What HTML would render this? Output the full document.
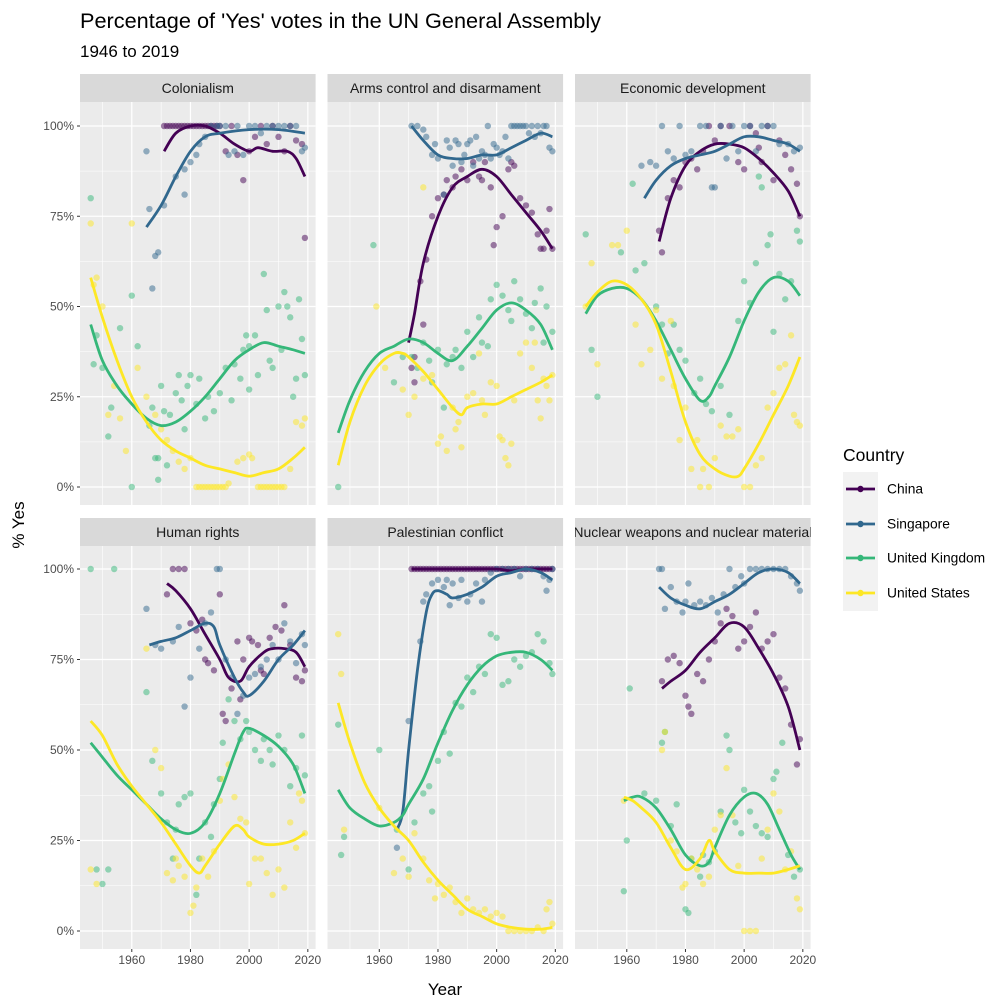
<!DOCTYPE html>
<html><head><meta charset="utf-8"><style>
body{margin:0;background:#fff;}
svg{display:block;font-family:"Liberation Sans",Arial,sans-serif;}
</style></head><body>
<svg id="chart" width="1008" height="1008" viewBox="0 0 1008 1008" xmlns="http://www.w3.org/2000/svg">
<rect width="1008" height="1008" fill="#fff"/>
<text x="80" y="28" font-size="21.7" fill="#000">Percentage of 'Yes' votes in the UN General Assembly</text>
<text x="80" y="57" font-size="17" fill="#000">1946 to 2019</text>
<text transform="translate(24,525) rotate(-90)" text-anchor="middle" font-size="17" fill="#000">% Yes</text>
<text x="445" y="995" text-anchor="middle" font-size="17" fill="#000">Year</text>
<g id="panels"></g>
<g id="legend"></g>
</svg>
<script>
const countries = ["China","Singapore","United Kingdom","United States"];
const colors = ["#440154","#31688E","#35B779","#FDE725"];
const panelTitles = ["Colonialism","Arms control and disarmament","Economic development","Human rights","Palestinian conflict","Nuclear weapons and nuclear material"];
const xTicks = [1960,1980,2000,2020];
const yTicks = [0,25,50,75,100];
const yTickLabels = ["0%","25%","50%","75%","100%"];

const pts0 = [
 [[1971,100],[1972,100],[1973,100],[1974,100],[1975,100],[1976,100],[1977,100],[1978,100],[1979,100],[1980,100],[1981,100],[1982,100],[1983,100],[1984,100],[1985,100],[1986,100],[1987,100],[1988,100],[1989,100],[1990,100],[1992,93],[1994,100],[1996,92],[1998,85],[2000,93],[2002,97],[2004,100],[2006,95],[2008,100],[2010,97],[2012,93],[2014,100],[2016,96],[2018,95],[2019,69]],
 [[1965,93],[1966,77],[1967,55],[1968,64],[1969,65],[1971,78],[1975,86],[1978,88],[1978,81],[1980,90],[1982,92],[1983,95],[1985,97],[1987,100],[1989,100],[1990,100],[1992,100],[1993,92],[1995,93],[1996,100],[1998,92],[2000,100],[2002,100],[2004,98],[2006,100],[2008,100],[2010,100],[2012,100],[2014,100],[2016,100],[2018,93],[2019,94]],
 [[1946,80],[1947,34],[1948,42],[1950,33],[1952,14],[1953,22],[1956,44],[1960,0],[1960,53],[1962,39],[1966,17],[1967,22],[1968,8],[1969,8],[1969,2],[1970,28],[1971,21],[1972,6],[1973,20],[1975,26],[1976,31],[1977,24],[1978,16],[1979,28],[1980,31],[1982,23],[1983,30],[1985,19],[1986,25],[1988,21],[1990,26],[1992,33],[1994,24],[1995,34],[1997,30],[1998,38],[1999,42],[2000,27],[2000,39],[2002,42],[2003,31],[2005,59],[2006,49],[2007,35],[2008,33],[2010,50],[2011,38],[2012,54],[2013,50],[2014,47],[2015,25],[2016,30],[2017,52],[2018,41],[2019,31]],
 [[1946,73],[1947,56],[1948,58],[1950,50],[1952,20],[1954,28],[1956,19],[1958,10],[1960,73],[1962,33],[1965,25],[1968,20],[1970,16],[1972,13],[1974,10],[1976,7],[1978,5],[1980,8],[1982,0],[1983,0],[1984,0],[1985,0],[1986,0],[1987,0],[1988,0],[1989,0],[1990,0],[1991,0],[1992,0],[1993,1],[1996,7],[1998,8],[2000,9],[2001,8],[2003,0],[2004,0],[2005,0],[2006,0],[2007,0],[2008,0],[2009,0],[2010,0],[2011,0],[2012,0],[2014,5],[2016,18],[2018,17],[2019,19]]
];
const pts1 = [
 [[1971,33],[1972,29],[1972,36],[1974,57],[1975,45],[1976,63],[1978,75],[1980,80],[1982,81],[1983,85],[1985,83],[1986,86],[1988,88],[1990,85],[1992,90],[1994,86],[1995,85],[1996,90],[1998,83],[1999,67],[2000,72],[2002,75],[2004,88],[2005,90],[2006,89],[2008,80],[2010,78],[2012,76],[2014,70],[2015,66],[2016,66],[2017,71],[2018,77],[2019,66]],
 [[1971,100],[1973,100],[1975,99],[1976,97],[1978,92],[1979,95],[1980,91],[1982,81],[1983,96],[1984,94],[1985,89],[1986,96],[1987,95],[1988,90],[1989,92],[1990,95],[1991,96],[1992,89],[1993,97],[1994,91],[1995,93],[1996,92],[1997,100],[1998,91],[1999,95],[2000,94],[2001,92],[2002,93],[2003,97],[2004,91],[2005,100],[2006,100],[2007,100],[2008,100],[2009,100],[2010,100],[2011,98],[2012,100],[2013,97],[2014,100],[2015,98],[2016,100],[2017,100],[2018,94],[2019,93]],
 [[1946,0],[1958,67],[1965,29],[1968,36],[1971,36],[1973,33],[1975,40],[1977,35],[1978,29],[1980,38],[1982,22],[1983,34],[1985,36],[1986,38],[1988,33],[1990,43],[1992,36],[1994,47],[1995,40],[1997,39],[1998,52],[2000,56],[2002,53],[2004,49],[2005,46],[2006,57],[2008,52],[2010,48],[2012,44],[2013,51],[2015,55],[2016,40],[2017,50],[2019,43]],
 [[1959,50],[1975,83],[1962,33],[1968,27],[1970,20],[1972,25],[1975,30],[1978,31],[1980,12],[1981,14],[1983,10],[1985,22],[1986,16],[1987,18],[1988,11],[1990,25],[1992,26],[1994,37],[1995,24],[1996,20],[1998,29],[2000,28],[2001,14],[2002,13],[2003,8],[2004,6],[2005,12],[2006,24],[2008,37],[2010,40],[2012,33],[2013,40],[2014,24],[2015,19],[2016,30],[2017,28],[2018,24],[2019,31]]
];
const pts2 = [
 [[1971,71],[1972,65],[1974,80],[1976,85],[1978,83],[1980,90],[1982,91],[1984,88],[1986,93],[1988,100],[1990,96],[1992,100],[1995,100],[1998,90],[2000,88],[2002,100],[2004,98],[2005,94],[2006,90],[2008,100],[2010,85],[2012,96],[2014,92],[2016,88],[2018,84],[2019,75]],
 [[1965,89],[1968,90],[1970,89],[1972,100],[1974,93],[1976,91],[1978,100],[1980,92],[1982,93],[1985,100],[1987,100],[1989,83],[1990,83],[1992,100],[1994,91],[1996,100],[1998,93],[2000,100],[2002,100],[2004,93],[2006,100],[2008,100],[2010,100],[2012,95],[2015,95],[2017,93],[2019,94]],
 [[1946,70],[1948,38],[1950,25],[1958,65],[1962,84],[1963,60],[1966,62],[1970,50],[1972,45],[1974,37],[1976,45],[1978,38],[1980,35],[1983,26],[1985,30],[1987,23],[1989,21],[1992,28],[1995,20],[1998,46],[2000,57],[2002,51],[2004,62],[2005,86],[2006,83],[2008,67],[2009,70],[2010,43],[2012,59],[2014,52],[2016,57],[2018,71],[2019,68]],
 [[1946,50],[1948,62],[1950,34],[1955,67],[1957,67],[1960,71],[1963,45],[1965,34],[1968,38],[1970,49],[1972,30],[1975,46],[1976,28],[1978,13],[1980,22],[1982,5],[1984,13],[1985,0],[1986,5],[1988,0],[1990,8],[1992,17],[1994,14],[1996,14],[1998,16],[2000,0],[2002,0],[2004,6],[2006,8],[2008,22],[2010,26],[2012,33],[2014,34],[2016,42],[2017,20],[2018,18],[2019,17]]
];
const pts3 = [
 [[1972,93],[1974,100],[1976,100],[1978,100],[1980,85],[1982,83],[1984,86],[1985,75],[1986,74],[1988,72],[1990,93],[1991,60],[1992,58],[1994,67],[1996,80],[1997,64],[1998,75],[2000,81],[2001,80],[2003,79],[2004,72],[2005,71],[2007,81],[2009,84],[2011,83],[2012,90],[2014,79],[2016,70],[2018,69],[2019,72]],
 [[1965,89],[1968,79],[1970,78],[1974,80],[1976,84],[1978,62],[1980,70],[1983,78],[1985,85],[1987,88],[1989,100],[1990,100],[1992,75],[1994,70],[1996,60],[1998,65],[2000,70],[2002,71],[2004,73],[2006,75],[2008,79],[2010,75],[2012,85],[2014,80],[2016,74],[2018,82],[2019,79]],
 [[1946,100],[1948,17],[1950,13],[1952,17],[1954,100],[1965,66],[1967,47],[1970,38],[1972,30],[1974,20],[1975,28],[1976,35],[1978,37],[1980,38],[1982,10],[1983,20],[1985,30],[1987,26],[1988,35],[1990,42],[1991,52],[1993,64],[1995,58],[1997,53],[1999,58],[2000,55],[2002,50],[2004,47],[2005,53],[2007,50],[2008,46],[2010,54],[2012,50],[2014,40],[2016,45],[2018,54],[2019,43]],
 [[1946,17],[1948,13],[1965,78],[1968,50],[1970,45],[1972,16],[1974,14],[1975,20],[1976,18],[1978,15],[1980,5],[1981,7],[1982,12],[1984,20],[1986,15],[1988,22],[1990,36],[1991,42],[1993,46],[1995,37],[1997,31],[1999,30],[2000,13],[2002,20],[2004,20],[2006,16],[2008,10],[2010,17],[2012,12],[2014,30],[2016,23],[2017,38],[2018,36],[2019,27]]
];
const pts4 = [
 [[1971,100],[1972,100],[1973,100],[1974,100],[1975,100],[1976,100],[1977,100],[1978,100],[1979,100],[1980,100],[1981,100],[1982,100],[1983,100],[1984,100],[1985,100],[1986,100],[1987,100],[1988,100],[1989,100],[1990,100],[1991,100],[1992,100],[1993,100],[1994,100],[1995,100],[1996,100],[1997,100],[1998,100],[1999,100],[2000,100],[2001,100],[2002,100],[2003,100],[2004,100],[2005,100],[2006,100],[2007,100],[2008,100],[2009,100],[2010,100],[2011,100],[2012,100],[2013,100],[2014,100],[2015,100],[2016,100],[2017,100],[2018,100],[2019,100]],
 [[1966,23],[1970,58],[1974,80],[1975,91],[1976,93],[1978,96],[1980,97],[1982,95],[1983,97],[1984,90],[1985,96],[1987,92],[1988,97],[1990,91],[1991,93],[1993,96],[1995,91],[1996,97],[1998,99],[2000,100],[2002,100],[2004,100],[2006,100],[2008,98],[2010,100],[2012,100],[2014,100],[2016,98],[2017,94],[2018,97],[2019,100]],
 [[1946,57],[1947,21],[1948,26],[1960,50],[1966,28],[1970,17],[1972,30],[1975,38],[1977,40],[1978,33],[1980,47],[1982,55],[1984,49],[1986,63],[1988,62],[1990,70],[1992,66],[1994,73],[1996,71],[1998,82],[2000,81],[2002,68],[2004,69],[2006,75],[2008,73],[2010,76],[2012,77],[2014,82],[2016,80],[2018,74],[2019,71]],
 [[1946,82],[1947,71],[1948,28],[1960,34],[1965,16],[1968,20],[1970,15],[1972,27],[1975,20],[1977,14],[1979,9],[1980,13],[1982,10],[1984,12],[1986,8],[1988,5],[1990,9],[1992,6],[1994,5],[1996,6],[1998,4],[2000,5],[2002,4],[2004,0],[2006,0],[2008,0],[2010,0],[2012,0],[2014,1],[2016,0],[2017,6],[2018,8],[2019,2]]
];
const pts5 = [
 [[1972,69],[1974,75],[1976,76],[1978,74],[1980,65],[1981,62],[1982,60],[1984,71],[1986,69],[1988,75],[1990,80],[1992,85],[1994,89],[1996,87],[1998,78],[2000,80],[2002,84],[2004,88],[2006,78],[2008,80],[2010,82],[2012,70],[2014,67],[2016,57],[2018,46],[2019,53]],
 [[1971,100],[1972,100],[1973,89],[1975,95],[1977,91],[1979,88],[1980,91],[1981,96],[1983,90],[1985,91],[1987,90],[1989,92],[1991,88],[1993,93],[1995,100],[1997,95],[1999,98],[2000,96],[2002,100],[2004,100],[2006,100],[2008,100],[2010,100],[2012,100],[2014,100],[2016,98],[2018,96],[2019,94]],
 [[1959,11],[1960,25],[1961,67],[1966,38],[1970,36],[1972,52],[1973,55],[1975,29],[1977,35],[1980,6],[1981,5],[1982,20],[1985,15],[1986,21],[1988,19],[1990,22],[1992,33],[1994,54],[1995,50],[1997,30],[1999,27],[2000,39],[2002,33],[2004,29],[2006,27],[2008,26],[2010,42],[2011,44],[2013,52],[2015,21],[2017,15],[2019,17]],
 [[1959,36],[1972,50],[1973,55],[1975,25],[1977,22],[1979,12],[1980,13],[1982,20],[1984,17],[1986,13],[1988,15],[1990,28],[1992,32],[1994,45],[1996,32],[1998,18],[2000,0],[2002,0],[2004,0],[2006,20],[2008,28],[2010,38],[2012,33],[2014,17],[2016,22],[2018,9],[2019,6]]
];
const pointsByPanel = [pts0,pts1,pts2,pts3,pts4,pts5];

const trend0 = [
 [[1971,93],[1975,98],[1980,100],[1985,100],[1990,98],[1995,95],[2000,93],[2003,94],[2008,93],[2013,93],[2016,91],[2019,86]],
 [[1965,72],[1970,78],[1975,86],[1980,93],[1985,97],[1990,98],[2000,99],[2010,99],[2019,98]],
 [[1946,45],[1950,35],[1955,28],[1960,23],[1965,19],[1970,17],[1975,18],[1980,21],[1985,25],[1990,30],[1995,35],[2000,38],[2005,40],[2010,39],[2015,38],[2019,37]],
 [[1946,58],[1950,47],[1955,35],[1960,25],[1965,18],[1970,13],[1975,10],[1980,8],[1985,6],[1990,5],[1995,4],[2000,3],[2005,4],[2010,5],[2015,8],[2019,11]]
];
const trend1 = [
 [[1970,40],[1972,48],[1975,62],[1980,75],[1985,83],[1990,86],[1995,88],[2000,86],[2005,81],[2010,76],[2015,71],[2019,66]],
 [[1971,100],[1975,96],[1980,92],[1985,91],[1990,91],[1995,92],[2000,92],[2005,94],[2010,96],[2015,98],[2019,97]],
 [[1946,15],[1950,24],[1955,32],[1960,37],[1965,39],[1970,41],[1975,40],[1980,37],[1985,35],[1990,39],[1995,44],[2000,49],[2005,51],[2010,49],[2015,45],[2019,38]],
 [[1946,6],[1950,18],[1955,28],[1960,34],[1965,37],[1968,37],[1970,36],[1975,32],[1980,27],[1985,22],[1988,20],[1990,22],[1995,23],[2000,23],[2005,25],[2010,27],[2015,29],[2019,31]]
];
const trend2 = [
 [[1971,68],[1975,80],[1980,89],[1985,93],[1990,95],[1995,95],[2000,94],[2005,91],[2010,87],[2015,82],[2019,75]],
 [[1966,80],[1970,85],[1975,89],[1980,91],[1985,92],[1990,93],[1995,95],[2000,97],[2005,97],[2010,96],[2015,95],[2019,93]],
 [[1946,48],[1950,53],[1955,55],[1960,55],[1965,52],[1970,46],[1975,38],[1980,30],[1985,24],[1988,25],[1990,28],[1995,36],[2000,46],[2005,54],[2010,58],[2015,57],[2019,53]],
 [[1946,50],[1950,54],[1955,57],[1960,56],[1965,52],[1970,45],[1975,32],[1980,18],[1985,9],[1990,5],[1995,3],[1998,3],[2000,5],[2005,12],[2010,20],[2015,28],[2019,36]]
];
const trend3 = [
 [[1972,96],[1975,94],[1980,89],[1985,82],[1990,75],[1993,70],[1997,69],[2000,73],[2005,77],[2008,78],[2012,78],[2016,77],[2019,73]],
 [[1966,79],[1970,80],[1975,81],[1980,83],[1985,85],[1988,84],[1990,79],[1995,70],[1998,66],[2000,65],[2005,69],[2010,75],[2015,79],[2019,83]],
 [[1946,52],[1950,48],[1955,43],[1960,39],[1965,35],[1970,31],[1975,28],[1980,27],[1985,30],[1990,38],[1995,49],[1998,55],[2000,56],[2005,54],[2010,51],[2015,46],[2019,38]],
 [[1946,58],[1950,54],[1955,46],[1960,40],[1965,35],[1970,30],[1975,24],[1980,18],[1983,16],[1985,18],[1990,24],[1995,29],[1998,28],[2000,26],[2005,24],[2010,24],[2015,25],[2019,27]]
];
const trend4 = [
 [[1971,100],[1980,100],[1990,100],[2000,100],[2005,99.5],[2010,100],[2019,100]],
 [[1966,28],[1968,33],[1970,50],[1973,72],[1976,88],[1978,93],[1980,94],[1983,93],[1985,92],[1990,93],[1995,95],[2000,98],[2005,99],[2010,100],[2015,99],[2019,97]],
 [[1946,39],[1950,34],[1955,31],[1960,29],[1965,30],[1968,32],[1970,35],[1975,42],[1980,52],[1985,61],[1990,68],[1995,73],[2000,76],[2005,77],[2010,77],[2015,75],[2019,72]],
 [[1946,63],[1950,52],[1955,41],[1960,34],[1965,29],[1970,25],[1975,19],[1980,14],[1985,10],[1990,6],[1995,4],[2000,2],[2005,1],[2010,0.5],[2015,0.5],[2019,1]]
];
const trend5 = [
 [[1972,67],[1975,69],[1980,72],[1985,77],[1990,81],[1995,85],[2000,84],[2005,78],[2010,71],[2015,62],[2019,50]],
 [[1971,95],[1975,92],[1980,90],[1985,89],[1990,91],[1995,93],[2000,96],[2005,99],[2010,100],[2015,99],[2019,96]],
 [[1959,36],[1962,37],[1965,37],[1970,34],[1975,28],[1980,21],[1985,18],[1988,19],[1990,23],[1995,32],[2000,37],[2004,38],[2008,35],[2012,28],[2016,21],[2019,17]],
 [[1959,37],[1962,36],[1965,34],[1970,30],[1975,23],[1980,17],[1985,20],[1988,25],[1990,22],[1995,17],[2000,16],[2005,16],[2010,16],[2015,17],[2019,18]]
];
const trendsByPanel = [trend0,trend1,trend2,trend3,trend4,trend5];

const NS = "http://www.w3.org/2000/svg";
function mk(tag, attrs, parent){const e=document.createElementNS(NS,tag);for(const k in attrs)e.setAttribute(k,attrs[k]);if(parent)parent.appendChild(e);return e;}
const colLeft=[80,327.5,575], panelW=235.6, rowTop=[102,546], panelH=403;
const YMIN=1942.35, YMAX=2022.65;
function xScale(c,yr){return colLeft[c]+(yr-YMIN)/(YMAX-YMIN)*panelW;}
function yScale(r,p){const y100=r===0?126:569, y0=r===0?487:931;return y0-(p/100)*(y0-y100);}
function smoothPath(p){
 if(p.length<2)return"";
 let d="M"+p[0][0].toFixed(1)+","+p[0][1].toFixed(1);
 for(let i=0;i<p.length-1;i++){
  const p0=p[i-1]||p[i],p1=p[i],p2=p[i+1],p3=p[i+2]||p2;
  const c1x=p1[0]+(p2[0]-p0[0])/6,c1y=p1[1]+(p2[1]-p0[1])/6,c2x=p2[0]-(p3[0]-p1[0])/6,c2y=p2[1]-(p3[1]-p1[1])/6;
  d+=" C"+c1x.toFixed(1)+","+c1y.toFixed(1)+" "+c2x.toFixed(1)+","+c2y.toFixed(1)+" "+p2[0].toFixed(1)+","+p2[1].toFixed(1);
 }
 return d;
}
const root=document.getElementById("panels");
for(let i=0;i<6;i++){
 const c=i%3,r=Math.floor(i/3),L=colLeft[c],T=rowTop[r];
 const g=mk("g",{},root);
 
 
 const strip=mk("rect",{x:L,y:T-28,width:panelW,height:28,fill:"#D9D9D9"},g);
 
 
 mk("clipPath",{id:"sc"+i},g).appendChild(mk("rect",{x:L,y:T-28,width:panelW,height:28}));
 const st=mk("text",{x:L+panelW/2,y:T-9,"text-anchor":"middle","font-size":"14",fill:"#1A1A1A","clip-path":"url(#sc"+i+")"},g);
 st.textContent=panelTitles[i];
 
 
 const bg=mk("rect",{x:L,y:T,width:panelW,height:panelH,fill:"#EBEBEB"},g);
 
 
 [1950,1970,1990,2010].forEach(yr=>{const x=xScale(c,yr);mk("line",{x1:x,x2:x,y1:T,y2:T+panelH,stroke:"#fff","stroke-width":0.6},g);});
 [12.5,37.5,62.5,87.5].forEach(p=>{const y=yScale(r,p);mk("line",{x1:L,x2:L+panelW,y1:y,y2:y,stroke:"#fff","stroke-width":0.6},g);});
 xTicks.forEach(yr=>{const x=xScale(c,yr);mk("line",{x1:x,x2:x,y1:T,y2:T+panelH,stroke:"#fff","stroke-width":1.2},g);});
 yTicks.forEach(p=>{const y=yScale(r,p);mk("line",{x1:L,x2:L+panelW,y1:y,y2:y,stroke:"#fff","stroke-width":1.2},g);});
 if(c===0){yTicks.forEach((p,k)=>{const y=yScale(r,p);mk("line",{x1:L-3,x2:L,y1:y,y2:y,stroke:"#333","stroke-width":1},g);
  const t=mk("text",{x:L-6,y:y+4,"text-anchor":"end","font-size":"12",fill:"#4D4D4D"},g);t.textContent=yTickLabels[k];
  
  });}
 if(r===1){xTicks.forEach(yr=>{const x=xScale(c,yr);mk("line",{x1:x,x2:x,y1:T+panelH,y2:T+panelH+3,stroke:"#333","stroke-width":1},g);
  const t=mk("text",{x:x,y:T+panelH+15,"text-anchor":"middle","font-size":"12",fill:"#4D4D4D"},g);t.textContent=yr;
  
  });}
 mk("clipPath",{id:"pc"+i},g).appendChild(mk("rect",{x:L,y:T,width:panelW,height:panelH}));
 const pg=mk("g",{"clip-path":"url(#pc"+i+")"},g);
 for(let s=0;s<4;s++){
  pointsByPanel[i][s].forEach(pt=>{
   const ci=mk("circle",{cx:xScale(c,pt[0]),cy:yScale(r,pt[1]),r:3.2,fill:colors[s],"fill-opacity":0.5},pg);
   
   
  });
 }
 for(let s=0;s<4;s++){
  const pp=trendsByPanel[i][s].map(pt=>[xScale(c,pt[0]),yScale(r,pt[1])]);
  const path=mk("path",{d:smoothPath(pp),fill:"none",stroke:colors[s],"stroke-width":2.8,"stroke-linecap":"butt"},pg);
  
  
 }
}
const lg=document.getElementById("legend");
const lt=mk("text",{x:843,y:461,"font-size":"17.5",fill:"#000"},lg);lt.textContent="Country";
const legendY=[489,524,558,593];
countries.forEach((name,s)=>{
 const y=legendY[s];
 const e=mk("g",{},lg);
 
 
 mk("rect",{x:843,y:y-17,width:35,height:35,fill:"#F2F2F2"},e);
 mk("line",{x1:846,x2:875,y1:y,y2:y,stroke:colors[s],"stroke-width":2.8},e);
 mk("circle",{cx:860.5,cy:y,r:3.2,fill:colors[s]},e);
 const t=mk("text",{x:887,y:y+4.5,"font-size":"13.8",fill:"#000"},e);t.textContent=name;
});
</script>
</body></html>
